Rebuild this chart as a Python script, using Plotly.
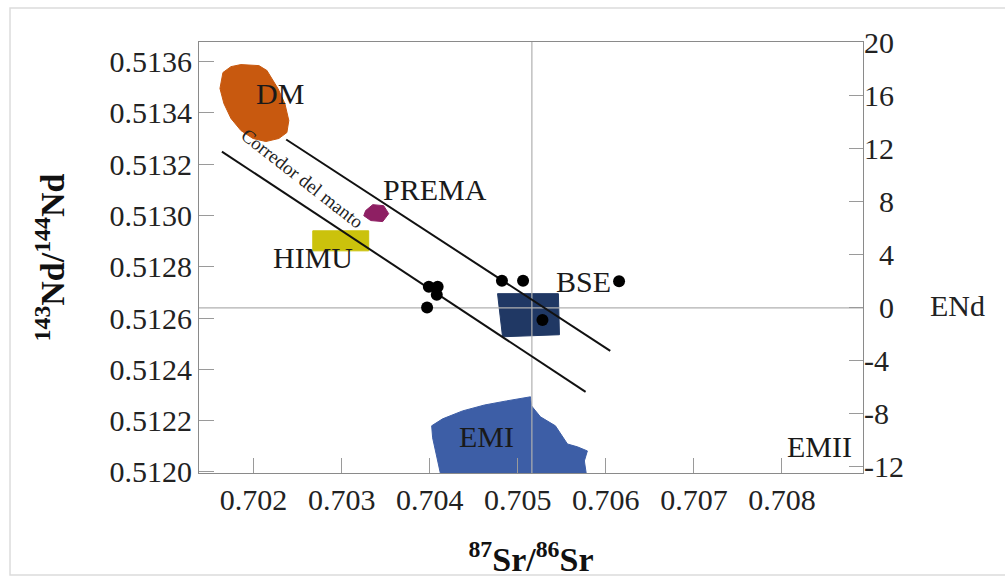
import plotly.graph_objects as go

# ---------------- data ----------------
sample_sr = [0.70399, 0.70409, 0.70408, 0.70397, 0.70482, 0.70506, 0.70615, 0.70528]
sample_nd = [0.512722, 0.512722, 0.512691, 0.512641, 0.512745, 0.512745, 0.512743, 0.512592]

upper_sr = [0.70237, 0.70605]
upper_nd = [0.513296, 0.512472]
lower_sr = [0.70164, 0.70577]
lower_nd = [0.513249, 0.512312]

dm_sr = [0.701652, 0.701743, 0.701856, 0.702060, 0.702151, 0.702276, 0.702355, 0.702400,
         0.702378, 0.702287, 0.702139, 0.701992, 0.701856, 0.701743, 0.701663, 0.701618]
dm_nd = [0.513557, 0.513580, 0.513588, 0.513584, 0.513565, 0.513495, 0.513436, 0.513370,
         0.513323, 0.513300, 0.513288, 0.513300, 0.513331, 0.513378, 0.513436, 0.513495]

prema_sr = [0.703273, 0.703353, 0.703477, 0.703534, 0.703466, 0.703330, 0.703251]
prema_nd = [0.513019, 0.513042, 0.513038, 0.513007, 0.512976, 0.512980, 0.512999]

himu_sr = [0.702672, 0.703307, 0.703307, 0.702672]
himu_nd = [0.512940, 0.512940, 0.512862, 0.512862]

bse_sr = [0.704770, 0.705461, 0.705473, 0.704827]
bse_nd = [0.512695, 0.512695, 0.512535, 0.512527]

emi_sr = [0.704124, 0.704078, 0.704033, 0.704022, 0.704146, 0.704373, 0.704622, 0.704872,
          0.705144, 0.705155, 0.705257, 0.705427, 0.705507, 0.705564, 0.705677, 0.705790,
          0.705756, 0.705779]
emi_nd = [0.511990, 0.512062, 0.512133, 0.512180, 0.512207, 0.512238, 0.512261, 0.512277,
          0.512293, 0.512258, 0.512215, 0.512180, 0.512137, 0.512109, 0.512098, 0.512082,
          0.512043, 0.511990]

sr_bse_ref = 0.70516
nd_chur_ref = 0.51264

labels = ["DM", "PREMA", "HIMU", "BSE", "EMI", "EMII"]
label_sr = [0.702298, 0.704056, 0.702672, 0.705745, 0.704645, 0.708421]
label_nd = [0.513475, 0.513100, 0.512835, 0.512741, 0.512137, 0.512098]

corridor_text = "Corredor del manto"
corridor_sr = 0.702556
corridor_nd = 0.513145

x_ticks = [0.702, 0.703, 0.704, 0.705, 0.706, 0.707, 0.708]
y_ticks = [0.5120, 0.5122, 0.5124, 0.5126, 0.5128, 0.5130, 0.5132, 0.5134, 0.5136]
end_ticks = [20, 16, 12, 8, 4, 0, -4, -8, -12]

x_range = [0.70138, 0.70892]
y_range = [0.511996, 0.513676]
end_range = [-12.5, 20.0]

SERIF = "Liberation Serif, Times New Roman, serif"

fig = go.Figure()

def poly(xs, ys, color):
    fig.add_trace(go.Scatter(x=xs + [xs[0]], y=ys + [ys[0]], mode="lines", fill="toself",
                             fillcolor=color, line=dict(color=color, width=1),
                             hoverinfo="skip", showlegend=False))

poly(emi_sr, emi_nd, "#3d5ea6")
poly(dm_sr, dm_nd, "#c8590f")
poly(prema_sr, prema_nd, "#8e1f63")
poly(himu_sr, himu_nd, "#cbc20c")
poly(bse_sr, bse_nd, "#203864")

# reference lines
fig.add_trace(go.Scatter(x=x_range, y=[nd_chur_ref, nd_chur_ref], mode="lines",
                         line=dict(color="#b0b0b0", width=1.2), showlegend=False, hoverinfo="skip"))
fig.add_trace(go.Scatter(x=[sr_bse_ref, sr_bse_ref], y=y_range, mode="lines",
                         line=dict(color="#b0b0b0", width=1.2), showlegend=False, hoverinfo="skip"))

# mantle array lines
fig.add_trace(go.Scatter(x=upper_sr, y=upper_nd, mode="lines",
                         line=dict(color="#111111", width=2), showlegend=False))
fig.add_trace(go.Scatter(x=lower_sr, y=lower_nd, mode="lines",
                         line=dict(color="#111111", width=2), showlegend=False))

# samples
fig.add_trace(go.Scatter(x=sample_sr, y=sample_nd, mode="markers",
                         marker=dict(color="black", size=12), showlegend=False))

# invisible trace for ENd axis
fig.add_trace(go.Scatter(x=[x_range[0]], y=[0], yaxis="y2", mode="markers",
                         marker=dict(opacity=0), showlegend=False, hoverinfo="skip"))

for t, xs, ys in zip(labels, label_sr, label_nd):
    fig.add_annotation(x=xs, y=ys, text=t, showarrow=False,
                       font=dict(family=SERIF, size=30, color="#1a1a1a"))

fig.add_annotation(x=corridor_sr, y=corridor_nd, text=corridor_text, showarrow=False,
                   textangle=38, font=dict(family=SERIF, size=19, color="#222222"))

fig.add_annotation(xref="paper", yref="paper", x=1.1416, y=0.3875, text="ENd", showarrow=False,
                   xanchor="center", yanchor="middle",
                   font=dict(family=SERIF, size=30, color="#222222"))

end_text = [("\u00a0\u00a0" + str(v)) if 0 <= v < 10 else str(v) for v in end_ticks]

fig.update_layout(
    width=1005, height=578,
    margin=dict(l=199, r=142, t=42, b=105),
    paper_bgcolor="white", plot_bgcolor="white",
    font=dict(family=SERIF, size=30, color="#222222"),
    xaxis=dict(range=x_range, tickvals=x_ticks, ticktext=[f"{v:.3f}" for v in x_ticks],
               ticks="inside", ticklen=15, tickcolor="#9a9a9a", tickwidth=1,
               showline=True, linecolor="#8a8a8a", linewidth=1.2, mirror=True,
               showgrid=False, zeroline=False, automargin=False,
               title=dict(text="<b><sup>87</sup>Sr/<sup>86</sup>Sr</b>",
                          font=dict(family=SERIF, size=34, color="#111111"), standoff=33)),
    yaxis=dict(range=y_range, tickvals=y_ticks, ticktext=[f"{v:.4f}" for v in y_ticks],
               ticks="inside", ticklen=15, tickcolor="#9a9a9a", tickwidth=1,
               showline=True, linecolor="#8a8a8a", linewidth=1.2, mirror=True,
               showgrid=False, zeroline=False, automargin=False,
               title=dict(text="<b><sup>143</sup>Nd/<sup>144</sup>Nd</b>",
                          font=dict(family=SERIF, size=34, color="#111111"), standoff=34)),
    yaxis2=dict(range=end_range, tickvals=end_ticks, ticktext=end_text, overlaying="y", side="right",
                ticks="inside", ticklen=14, tickcolor="#9a9a9a", tickwidth=1,
                showline=False, showgrid=False, zeroline=False, automargin=False,
                tickfont=dict(family=SERIF, size=30, color="#222222")),
    shapes=[dict(type="rect", xref="paper", yref="paper", x0=-0.2846, x1=1.4, y0=-0.2367, y1=1.079,
                 line=dict(color="#dcdcdc", width=1.5), fillcolor="rgba(0,0,0,0)", layer="below")],
)

fig.write_html("out.html")
